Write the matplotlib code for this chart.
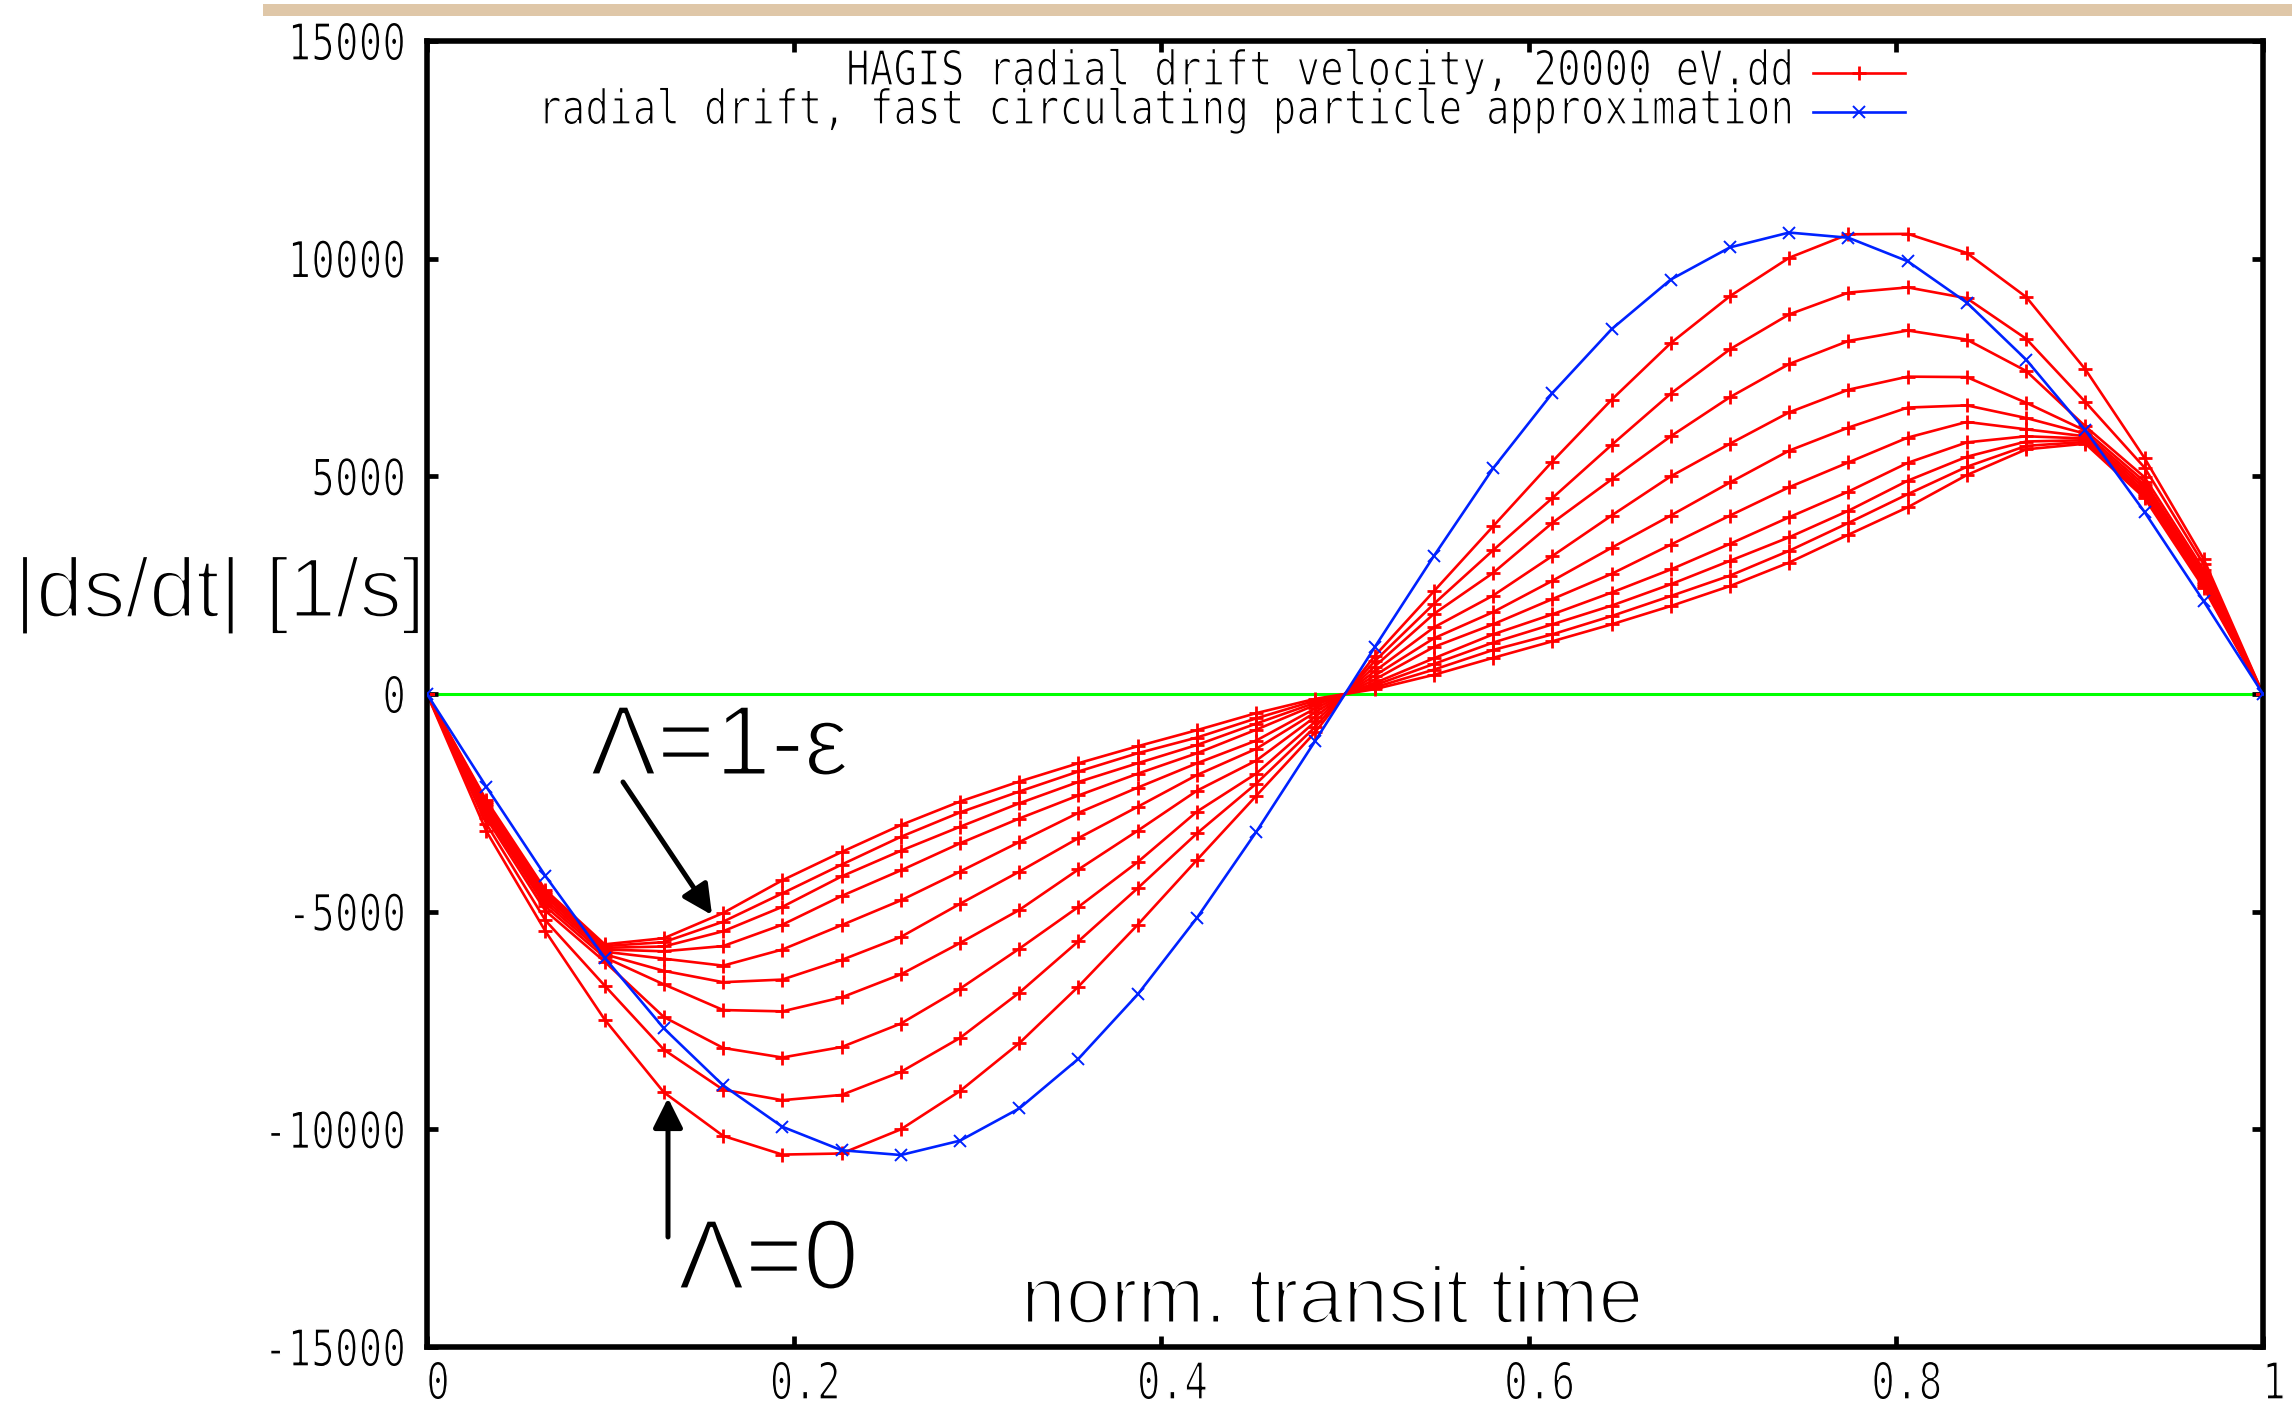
import matplotlib
matplotlib.use("Agg")
import matplotlib.pyplot as plt
import matplotlib.patheffects as pe
from matplotlib.textpath import TextPath
from matplotlib.patches import PathPatch, Rectangle, FancyArrowPatch, ArrowStyle
from matplotlib.font_manager import FontProperties
from matplotlib.transforms import Affine2D
from matplotlib.lines import Line2D

# normalized transit time grid (32 samples)
t_norm = [0.0, 0.0323, 0.0645, 0.0968, 0.1290, 0.1613, 0.1935, 0.2258,
          0.2581, 0.2903, 0.3226, 0.3548, 0.3871, 0.4194, 0.4516, 0.4839,
          0.5161, 0.5484, 0.5806, 0.6129, 0.6452, 0.6774, 0.7097, 0.7419,
          0.7742, 0.8065, 0.8387, 0.8710, 0.9032, 0.9355, 0.9677, 1.0]

# HAGIS radial drift velocity, one curve per pitch value (Lambda = 0 ... 1-eps)
lam_00 = [0, -3150, -5450, -7480, -9150, -10150, -10580, -10555, -10000, -9120, -8020, -6720, -5300, -3810, -2340, -870,
          870, 2360, 3850, 5340, 6760, 8060, 9140, 10020, 10560, 10570, 10130, 9120, 7460, 5420, 3100, 0]
lam_01 = [0, -2980, -5200, -6700, -8170, -9090, -9330, -9210, -8680, -7900, -6860, -5680, -4460, -3200, -2060, -750,
          750, 2070, 3300, 4500, 5720, 6900, 7920, 8720, 9220, 9340, 9090, 8160, 6710, 5200, 2980, 0]
lam_02 = [0, -2850, -4980, -6150, -7420, -8130, -8350, -8110, -7570, -6770, -5850, -4890, -3860, -2700, -1830, -630,
          630, 1840, 2780, 3930, 4930, 5920, 6820, 7580, 8110, 8350, 8140, 7420, 6150, 4980, 2850, 0]
lam_03 = [0, -2770, -4880, -6050, -6670, -7260, -7290, -6970, -6440, -5720, -4960, -4030, -3140, -2220, -1530, -520,
          520, 1530, 2260, 3170, 4100, 5000, 5750, 6470, 6990, 7290, 7280, 6690, 6050, 4880, 2770, 0]
lam_04 = [0, -2700, -4800, -5980, -6360, -6620, -6560, -6110, -5580, -4820, -4080, -3310, -2590, -1860, -1260, -420,
          420, 1280, 1880, 2600, 3360, 4100, 4860, 5590, 6120, 6580, 6630, 6340, 5980, 4800, 2700, 0]
lam_05 = [0, -2640, -4730, -5920, -6080, -6240, -5870, -5310, -4740, -4080, -3400, -2730, -2150, -1590, -1070, -330,
          330, 1080, 1600, 2180, 2760, 3430, 4100, 4750, 5320, 5890, 6250, 6080, 5920, 4730, 2640, 0]
lam_06 = [0, -2580, -4660, -5870, -5910, -5790, -5300, -4640, -4050, -3430, -2860, -2330, -1830, -1360, -820, -250,
          250, 820, 1370, 1830, 2330, 2860, 3450, 4060, 4650, 5310, 5780, 5920, 5870, 4660, 2580, 0]
lam_07 = [0, -2530, -4600, -5830, -5800, -5450, -4890, -4190, -3600, -3050, -2510, -2020, -1590, -1170, -680, -200,
          200, 690, 1180, 1600, 2030, 2520, 3060, 3600, 4210, 4900, 5450, 5800, 5830, 4600, 2530, 0]
lam_08 = [0, -2480, -4550, -5790, -5700, -5230, -4580, -3920, -3280, -2720, -2240, -1780, -1360, -1000, -560, -150,
          150, 560, 1010, 1370, 1790, 2250, 2720, 3290, 3930, 4590, 5220, 5700, 5790, 4550, 2480, 0]
lam_09 = [0, -2440, -4500, -5750, -5610, -5030, -4280, -3630, -3010, -2470, -2010, -1590, -1200, -830, -440, -110,
          110, 440, 830, 1210, 1600, 2020, 2480, 3020, 3660, 4290, 5030, 5620, 5750, 4500, 2440, 0]
hagis_curves = [lam_00, lam_01, lam_02, lam_03, lam_04, lam_05, lam_06, lam_07, lam_08, lam_09]

# fast circulating particle approximation
fast_circ = [0, -2130, -4180, -6060, -7680, -8990, -9940, -10480, -10590, -10260, -9520, -8380, -6900, -5140, -3170, -1070,
             1070, 3170, 5180, 6910, 8380, 9520, 10260, 10600, 10480, 9940, 8990, 7680, 6060, 4180, 2130, 0]

x_ticks = [0, 0.2, 0.4, 0.6, 0.8, 1]
x_tick_labels = ["0", "0.2", "0.4", "0.6", "0.8", "1"]
y_ticks = [15000, 10000, 5000, 0, -5000, -10000, -15000]
y_tick_labels = ["15000", "10000", "5000", "0", "-5000", "-10000", "-15000"]

legend_labels = ["HAGIS radial drift velocity, 20000 eV.dd",
                 "radial drift, fast circulating particle approximation"]

W, H = 2292, 1406
AX_L, AX_R, AX_T, AX_B = 427, 2263, 41, 1347

fig = plt.figure(figsize=(W / 100, H / 100), dpi=100)
# pixel coordinates measured from the top-left corner
px = Affine2D().scale(1.0 / W, -1.0 / H).translate(0, 1) + fig.transFigure

ax = fig.add_axes([AX_L / W, (H - AX_B) / H, (AX_R - AX_L) / W, (AX_B - AX_T) / H])
ax.set_xlim(0, 1)
ax.set_ylim(-15000, 15000)

ax.axhline(0, color="#00ff00", lw=2.2, zorder=1.5)
for curve in hagis_curves:
    ax.plot(t_norm, curve, color="#ff0000", lw=1.9, marker="+", ms=9.5, mew=2.0, zorder=2)
ax.plot(t_norm, fast_circ, color="#0022ff", lw=1.9, marker="x", ms=9, mew=1.4, zorder=3)

ax.set_xticks(x_ticks)
ax.set_yticks(y_ticks)
ax.tick_params(direction="in", length=8, width=3.4, top=True, right=True,
               labelbottom=False, labelleft=False)
for sp in ax.spines.values():
    sp.set_linewidth(4.0)

# gnuplot-style condensed labels
MONO = FontProperties(family="DejaVu Sans Mono")


def mono_text(x, y_base, s, ha="left", char_w=23.7, cap_h=37.0):
    tp = TextPath((0, 0), s, size=100, prop=MONO)
    w = len(s) * char_w
    if ha == "right":
        x0 = x - w
    elif ha == "center":
        x0 = x - w / 2
    else:
        x0 = x
    path = Affine2D().scale(char_w / 60.2, -cap_h / 72.9).translate(x0, y_base).transform_path(tp)
    # white outline thins the stretched strokes a little
    fig.add_artist(PathPatch(path, facecolor="black", edgecolor="white", lw=1.0, transform=px))


def x_pix(t):
    return AX_L + (AX_R - AX_L) * t


def y_pix(v):
    return (AX_T + AX_B) / 2 - v / 15000 * (AX_B - AX_T) / 2


for v, lab in zip(y_ticks, y_tick_labels):
    mono_text(406, y_pix(v) + 19, lab, ha="right")
for t, lab in zip(x_ticks, x_tick_labels):
    mono_text(x_pix(t) + 11, 1399, lab, ha="center")

# legend
mono_text(1794, 85, legend_labels[0], ha="right", cap_h=35)
mono_text(1794, 124, legend_labels[1], ha="right", cap_h=35)
fig.add_artist(Line2D([1813, 1905], [73, 73], color="#ff0000", lw=1.9, transform=px))
fig.add_artist(Line2D([1859], [73], color="#ff0000", marker="+", ms=9.5, mew=2.0, transform=px))
fig.add_artist(Line2D([1813, 1905], [112, 112], color="#0022ff", lw=1.9, transform=px))
fig.add_artist(Line2D([1859], [112], color="#0022ff", marker="x", ms=9, mew=1.4, transform=px))

# axis titles and annotations (thin strokes via a white outline on top)
thin = [pe.Normal(), pe.Stroke(linewidth=2.2, foreground="white")]
big = dict(family="Liberation Sans", color="black", va="baseline", ha="left",
           transform=px, path_effects=thin)
fig.text(14, 617, "|ds/dt| [1/s]", fontsize=61, **big)
fig.text(1021, 1323, "norm. transit time", fontsize=58, **big)
fig.text(590, 775, "\u039b=1-\u03b5", fontsize=72, **big)
fig.text(678, 1289, "\u039b=0", fontsize=72, **big)

arrow = ArrowStyle("-|>", head_length=1.0, head_width=0.5)
fig.add_artist(FancyArrowPatch((623, 782), (712, 915), arrowstyle=arrow, mutation_scale=18,
                               lw=3.6, color="black", shrinkA=0, shrinkB=0, transform=px))
fig.add_artist(FancyArrowPatch((668, 1237), (668, 1098), arrowstyle=arrow, mutation_scale=18,
                               lw=3.6, color="black", shrinkA=0, shrinkB=0, transform=px))

# window strip along the top edge
fig.add_artist(Rectangle((263, 4), W - 263, 12, facecolor="#dfc7a8", edgecolor="none", transform=px))

fig.savefig("out.png", dpi=100)
